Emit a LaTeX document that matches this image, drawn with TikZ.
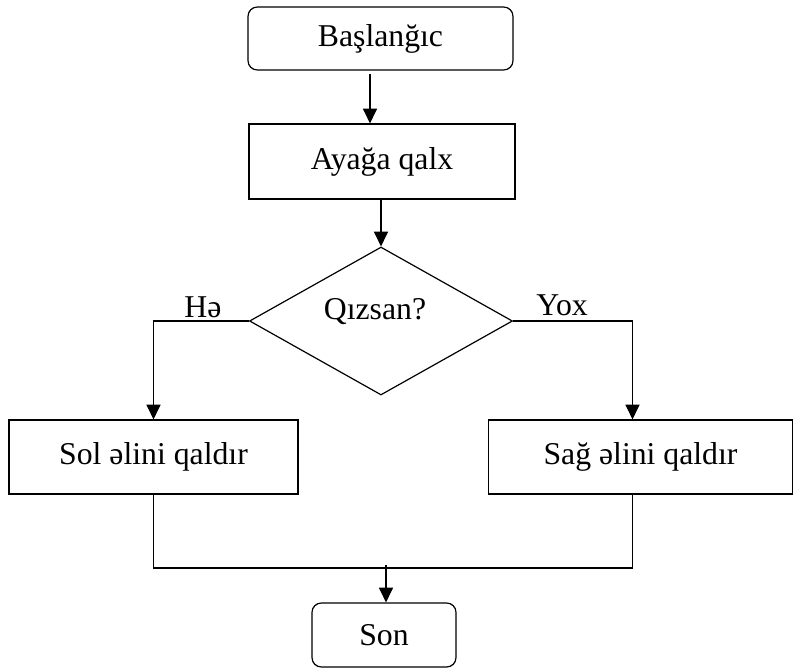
\documentclass[tikz,border=0pt]{standalone}
\usepackage{fontspec}
\setmainfont{Liberation Serif}
\usetikzlibrary{shapes.geometric,arrows.meta,calc}
\begin{document}
\begin{tikzpicture}[x=0.75pt,y=-0.75pt,
  every node/.style={font=\fontsize{23.8}{28}\selectfont},
  box/.style={draw,line width=0.9pt,inner sep=0pt},
  rbox/.style={box,rounded corners=7pt},
  dec/.style={draw,line width=0.9pt,diamond,inner sep=0pt,minimum width=197.25pt,minimum height=111pt},
  line/.style={line width=0.9pt},
  arr/.style={line,-{Triangle[length=11pt,width=10.5pt]}},
  lbl/.style={inner sep=0pt}]
\useasboundingbox (0,0) rectangle (794,668);
\node[rbox,minimum width=198.75pt,minimum height=47.25pt] (start) at (380.5,38.5) {Başlanğıc};
\node[box,minimum width=199.5pt,minimum height=56.25pt] (stand) at (382,161.5) {Ayağa qalx};
\node[dec] (d) at (381,321) {};
\node[lbl] (q) at (375,312) {Qızsan?};
\node[box,minimum width=216.75pt,minimum height=55.5pt] (left) at (153.5,457) {Sol əlini qaldır};
\node[box,minimum width=228pt,minimum height=55.5pt] (right) at (640.5,457) {Sağ əlini qaldır};
\node[rbox,minimum width=108pt,minimum height=48pt] (son) at (384,635) {Son};
\node[lbl] (he) at (203,307) {Hə};
\node[lbl] (yox) at (562,305) {Yox};
% connectors
\coordinate (a1) at (370,74);
\draw[arr] (a1) -- (a1 |- stand.north);
\draw[arr] (stand.south -| d.north) -- (d.north);
\draw[arr] (d.west) -| (left.north);
\coordinate (rn) at ([xshift=-6pt]right.north);
\coordinate (rs) at ([xshift=-6pt]right.south);
\draw[arr] (d.east) -| (rn);
\coordinate (j) at (386,568);
\draw[line] (left.south) |- (j) -| (rs);
\draw[arr] ([yshift=2pt]j) -- (j |- son.north);
\end{tikzpicture}
\end{document}
